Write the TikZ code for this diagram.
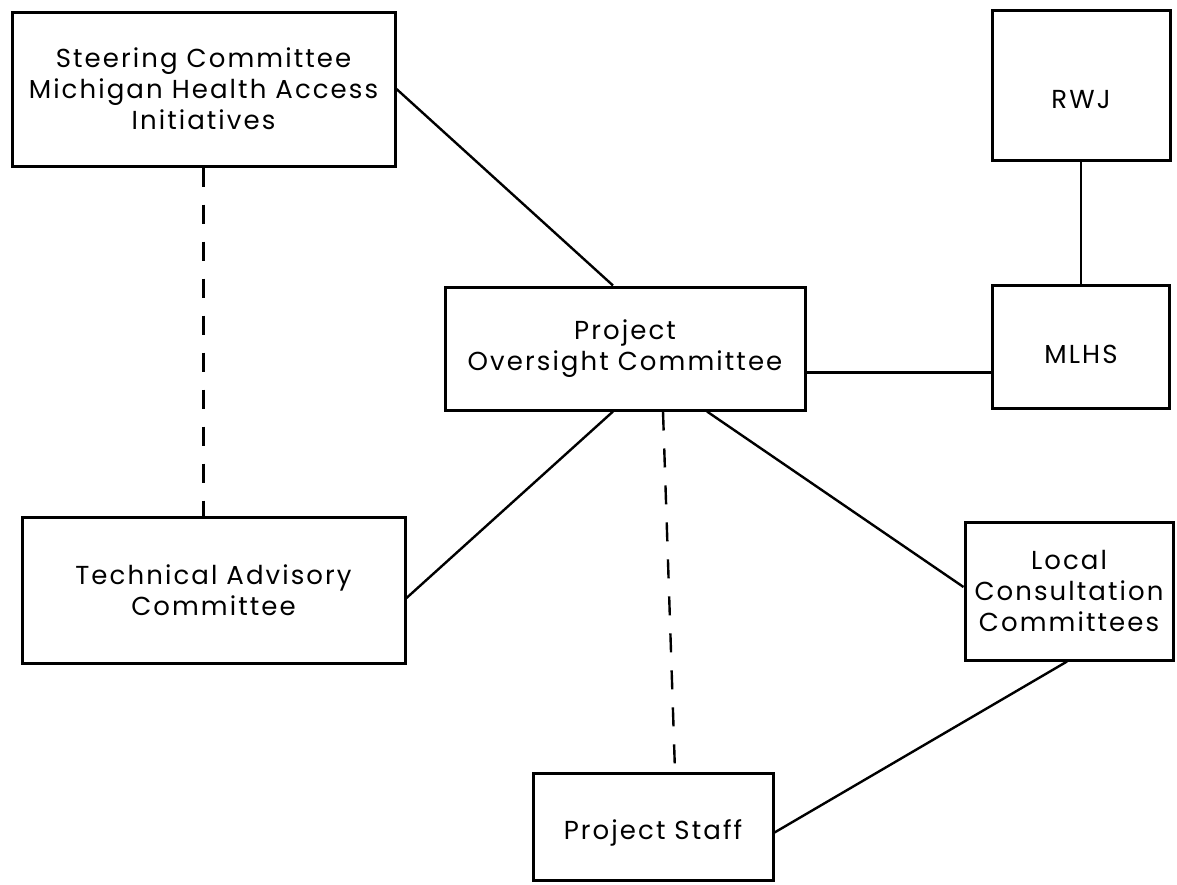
\documentclass[tikz,border=0pt]{standalone}
\usepackage{fontspec}
\setmainfont{Poppins}[LetterSpace=8]
\begin{document}
\begin{tikzpicture}[x=1pt,y=-1pt]
  \useasboundingbox (0,0) rectangle (1177,884);
  % committees
  \begin{scope}[every node/.style={draw,line width=3pt,align=center,inner sep=0pt,
      font=\fontsize{26}{31}\selectfont}]
    \node[minimum width=383pt,minimum height=154pt] (steer) at (203.5,89)
      {Steering Committee\\Michigan Health Access\\Initiatives};
    \node[minimum width=178pt,minimum height=150pt,text height=46pt,text depth=0pt]
      (rwj) at (1081,85) {RWJ};
    \node[minimum width=360pt,minimum height=123pt] (poc) at (625,348.5)
      {Project\\Oversight Committee};
    \node[minimum width=177pt,minimum height=123pt,text height=34pt,text depth=0pt]
      (mlhs) at (1081,346.5) {MLHS};
    \node[minimum width=383pt,minimum height=146pt] (tac) at (213.5,590)
      {Technical Advisory\\Committee};
    \node[minimum width=208pt,minimum height=138pt] (lcc) at (1069,591)
      {Local\\Consultation\\Committees};
    \node[minimum width=240pt,minimum height=107pt,text height=32pt,text depth=6pt]
      (staff) at (653,826.5) {Project Staff};
  \end{scope}
  % advisory links
  \begin{scope}[every edge/.style={draw,line width=2.4pt,dash pattern=on 19pt off 18pt}]
    \path
      (steer.south) edge (steer.south |- tac.north)
      ([xshift=38pt]poc.south) edge ([xshift=22pt]staff.north);
  \end{scope}
  % reporting links
  \begin{scope}[every edge/.style={draw,line width=2.4pt}]
    \path
      (steer.east) edge ([xshift=-12pt]poc.north)
      (rwj.south) edge (mlhs.north)
      ([yshift=-24pt]poc.east) edge ([yshift=-26pt]mlhs.west)
      ([xshift=-12pt]poc.south) edge ([yshift=-8pt]tac.east)
      ([xshift=82pt]poc.south) edge ([yshift=4pt]lcc.west)
      ([yshift=-6pt]staff.east) edge ([xshift=-2pt]lcc.south);
  \end{scope}
\end{tikzpicture}
\end{document}
